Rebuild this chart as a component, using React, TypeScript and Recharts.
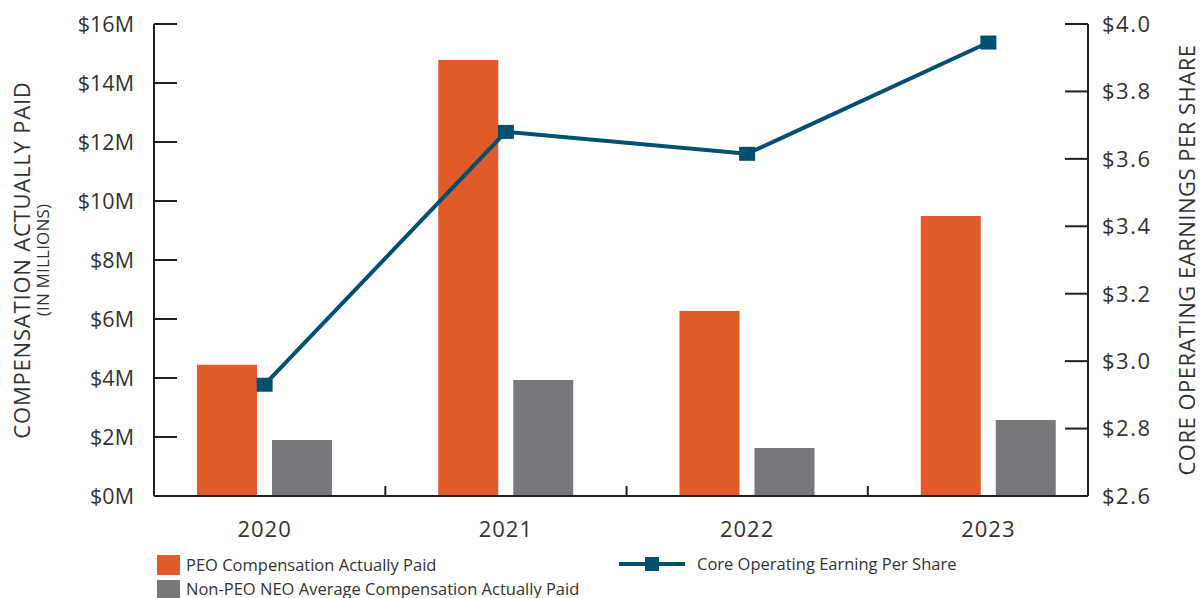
import React from 'react';
import { ComposedChart, Bar, Line, XAxis, YAxis, Legend } from 'recharts';

const years = ['2020', '2021', '2022', '2023'];
const peoComp = [4.45, 14.78, 6.27, 9.49];
const neoComp = [1.9, 3.93, 1.63, 2.58];
const coreEps = [2.93, 3.68, 3.615, 3.945];

const leftTicks = [0, 2, 4, 6, 8, 10, 12, 14, 16];
const rightTicks = [2.6, 2.8, 3.0, 3.2, 3.4, 3.6, 3.8, 4.0];

const data = years.map((year, i) => ({
  year,
  peo: peoComp[i],
  neo: neoComp[i],
  eps: coreEps[i],
}));

const ORANGE = '#E05A2A';
const GREY = '#77787B';
const BLUE = '#00506F';
const INK = '#231F20';
const TEXT = '#333333';
const FONT = '"Open Sans", sans-serif';
const HALF_BAND = 120.7;

function LeftTick({ x, y, payload }: any) {
  return (
    <g>
      <line x1={x} x2={x + 23} y1={y} y2={y} stroke={INK} strokeWidth={2} />
      <text x={x - 20} y={y} dy="0.36em" textAnchor="end" fontSize={21.5} fill={TEXT} fontFamily={FONT}>
        {`$${payload.value}M`}
      </text>
    </g>
  );
}

function RightTick({ x, y, payload }: any) {
  return (
    <g>
      <line x1={x - 23} x2={x} y1={y} y2={y} stroke={INK} strokeWidth={2} />
      <text x={x + 14} y={y} dy="0.36em" textAnchor="start" fontSize={22} letterSpacing={1.5} fill={TEXT} fontFamily={FONT}>
        {`$${Number(payload.value).toFixed(1)}`}
      </text>
    </g>
  );
}

function YearTick({ x, y, payload, index }: any) {
  return (
    <g>
      {index < years.length - 1 && (
        <line x1={x + HALF_BAND} x2={x + HALF_BAND} y1={y} y2={y - 10} stroke={INK} strokeWidth={2} />
      )}
      <text x={x} y={y + 33} dy="0.36em" textAnchor="middle" fontSize={22} letterSpacing={1} fill={TEXT} fontFamily={FONT}>
        {payload.value}
      </text>
    </g>
  );
}

function SquareDot({ cx, cy }: any) {
  return <rect x={cx - 8} y={cy - 7} width={16} height={14} fill={BLUE} />;
}

function LegendBox() {
  const label = { fontSize: 16.5, fill: TEXT, fontFamily: FONT } as const;
  return (
    <svg width={1200} height={50} style={{ display: 'block' }}>
      <rect x={157} y={2} width={23} height={20} fill={ORANGE} />
      <text x={186} y={12} dy="0.36em" {...label}>PEO Compensation Actually Paid</text>
      <rect x={157} y={27} width={23} height={20} fill={GREY} />
      <text x={186} y={36} dy="0.36em" {...label}>Non-PEO NEO Average Compensation Actually Paid</text>
      <line x1={619} x2={685} y1={11} y2={11} stroke={BLUE} strokeWidth={4} />
      <rect x={645} y={4} width={14} height={14} fill={BLUE} />
      <text x={697} y={11} dy="0.36em" {...label}>Core Operating Earning Per Share</text>
    </svg>
  );
}

function LeftTitle() {
  return (
    <g fontFamily={FONT} fill={TEXT}>
      <text transform="translate(22,260) rotate(-90)" textAnchor="middle" dy="0.36em" fontSize={22} letterSpacing={0.8}>
        COMPENSATION ACTUALLY PAID
      </text>
      <text transform="translate(43,260) rotate(-90)" textAnchor="middle" dy="0.36em" fontSize={17} letterSpacing={0.2}>
        (IN MILLIONS)
      </text>
    </g>
  );
}

function RightTitle() {
  return (
    <text transform="translate(1187,260) rotate(-90)" textAnchor="middle" dy="0.36em" fontSize={22} letterSpacing={0.5} fill={TEXT} fontFamily={FONT}>
      CORE OPERATING EARNINGS PER SHARE
    </text>
  );
}

export default function App() {
  return (
    <div style={{ position: 'absolute', left: 0, top: 0, background: '#fff' }}>
      <ComposedChart
        width={1200}
        height={598}
        data={data}
        margin={{ top: 24, right: 52, left: 94, bottom: 72 }}
        barSize={60}
        barGap={15}
      >
        <XAxis
          dataKey="year"
          padding={{ left: -10, right: -21 }}
          axisLine={{ stroke: INK, strokeWidth: 2 }}
          tickLine={false}
          tickSize={0}
          tickMargin={0}
          height={30}
          tick={<YearTick />}
          interval={0}
        />
        <YAxis
          yAxisId="left"
          domain={[0, 16]}
          ticks={leftTicks}
          width={60}
          axisLine={{ stroke: INK, strokeWidth: 2 }}
          tickLine={false}
          tickSize={0}
          tickMargin={0}
          tick={<LeftTick />}
          interval={0}
          label={<LeftTitle />}
        />
        <YAxis
          yAxisId="right"
          orientation="right"
          domain={[2.6, 4.0]}
          ticks={rightTicks}
          width={60}
          axisLine={{ stroke: INK, strokeWidth: 2 }}
          tickLine={false}
          tickSize={0}
          tickMargin={0}
          tick={<RightTick />}
          interval={0}
          label={<RightTitle />}
        />
        <Legend
          layout="horizontal"
          verticalAlign="middle"
          align="center"
          wrapperStyle={{ left: 0, top: 553, width: 1200 }}
          content={<LegendBox />}
        />
        <Bar yAxisId="left" dataKey="peo" name="PEO Compensation Actually Paid" fill={ORANGE} isAnimationActive={false} />
        <Bar yAxisId="left" dataKey="neo" name="Non-PEO NEO Average Compensation Actually Paid" fill={GREY} isAnimationActive={false} />
        <Line
          yAxisId="right"
          dataKey="eps"
          name="Core Operating Earning Per Share"
          stroke={BLUE}
          strokeWidth={4}
          dot={<SquareDot />}
          activeDot={false}
          isAnimationActive={false}
        />
      </ComposedChart>
    </div>
  );
}
